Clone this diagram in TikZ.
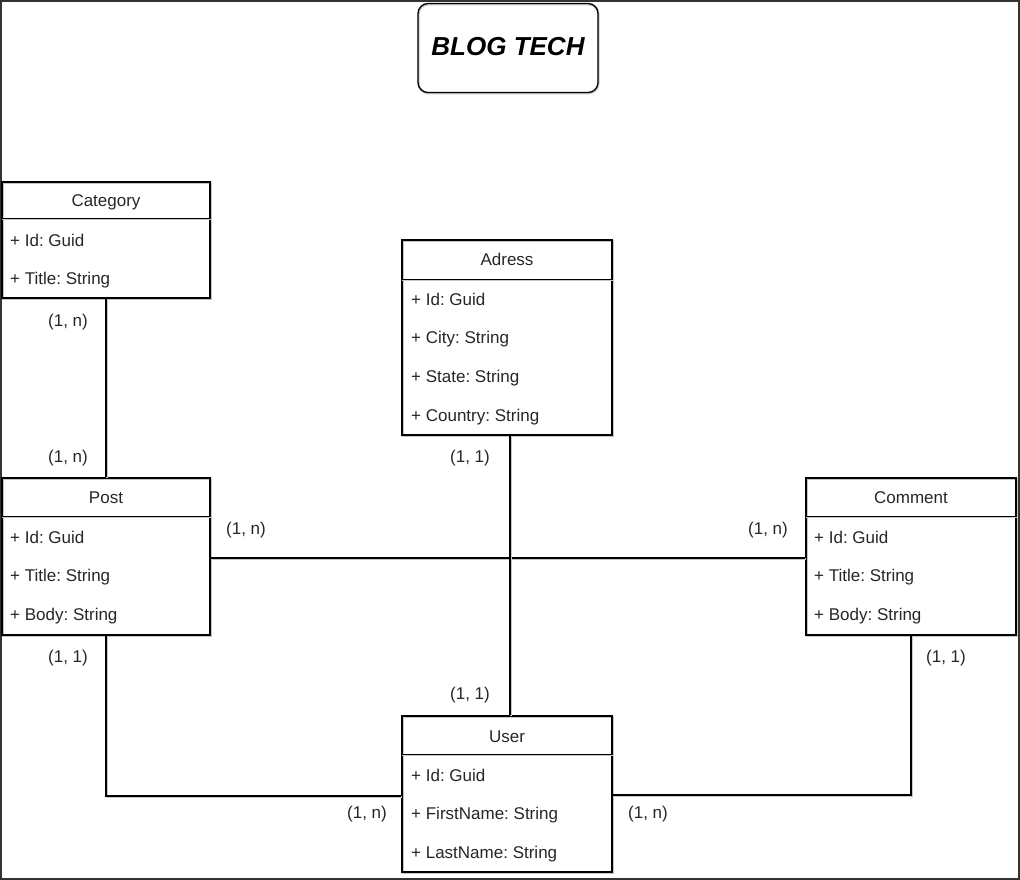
\documentclass[tikz,border=0pt]{standalone}
\usepackage{fontspec}
\setmainfont{Liberation Sans}
\frenchspacing
\usetikzlibrary{positioning}

\tikzset{
  sketch/.style={line width=1.3pt, preaction={draw=gray!45, line width=2.2pt, transform canvas={shift={(0.6pt,-0.8pt)}}}},
  entity/.style={sketch, draw=black, rectangle, inner sep=0pt},
  txt/.style={font=\fontsize{17}{20}\selectfont, text=black!85, inner sep=0pt, text height=12.2pt, text depth=0pt},
  attr/.style={txt, anchor=west},
}

\begin{document}
\begin{tikzpicture}[x=1pt,y=-1pt]
\useasboundingbox (0,0) rectangle (1020,880);
\draw[black!80, line width=2pt] (1,1) rectangle (1019,879);

% title
\node[entity, rounded corners=10pt, minimum width=180pt, minimum height=89pt] (title) at (508,48) {};
\node[txt, font={\fontsize{26}{30}\selectfont\bfseries\itshape}, text=black, text height=19pt] (titletext) at (508,46) {BLOG TECH};

% entities
\node[entity, minimum width=208pt, minimum height=116pt] (cat) at (106,240) {};
\draw[sketch] ([yshift=-37pt]cat.north west) -- ([yshift=-37pt]cat.north east);
\node[txt] (catname) at (106,200) {Category};
\foreach \t [count=\i] in {+ Id: Guid, + Title: String}
  \node[attr] (cat\i) at (10,{240+38.5*(\i-1)}) {\t};

\node[entity, minimum width=210pt, minimum height=195pt] (adr) at (507,337.5) {};
\draw[sketch] ([yshift=-40pt]adr.north west) -- ([yshift=-40pt]adr.north east);
\node[txt] (adrname) at (507,259) {Adress};
\foreach \t [count=\i] in {+ Id: Guid, + City: String, + State: String, + Country: String}
  \node[attr] (adr\i) at (411,{299+38.7*(\i-1)}) {\t};

\node[entity, minimum width=208pt, minimum height=157pt] (post) at (106,556.5) {};
\draw[sketch] ([yshift=-39pt]post.north west) -- ([yshift=-39pt]post.north east);
\node[txt] (postname) at (106,497) {Post};
\foreach \t [count=\i] in {+ Id: Guid, + Title: String, + Body: String}
  \node[attr] (post\i) at (10,{537+38.7*(\i-1)}) {\t};

\node[entity, minimum width=210pt, minimum height=157pt] (com) at (911,556.5) {};
\draw[sketch] ([yshift=-39pt]com.north west) -- ([yshift=-39pt]com.north east);
\node[txt] (comname) at (911,497) {Comment};
\foreach \t [count=\i] in {+ Id: Guid, + Title: String, + Body: String}
  \node[attr] (com\i) at (814,{537+38.7*(\i-1)}) {\t};

\node[entity, minimum width=210pt, minimum height=156pt] (user) at (507,794) {};
\draw[sketch] ([yshift=-39pt]user.north west) -- ([yshift=-39pt]user.north east);
\node[txt] (username) at (507,736) {User};
\foreach \t [count=\i] in {+ Id: Guid, + FirstName: String, + LastName: String}
  \node[attr] (user\i) at (411,{775+38.7*(\i-1)}) {\t};

% relations
\draw[sketch] (cat.south) -- (post.north);
\draw[sketch] ([yshift=-1.5pt]post.east) -- ([yshift=-1.5pt]com.west);
\draw[sketch] ([xshift=3pt]adr.south) -- ([xshift=3pt]user.north);
\draw[sketch] (post.south) |- ([yshift=-2pt]user.west);
\draw[sketch] (com.south) |- ([yshift=-1pt]user.east);

% cardinalities
\node[txt] (c1) at (68,320) {(1, n)};
\node[txt] (c2) at (68,456) {(1, n)};
\node[txt] (c3) at (470,456) {(1, 1)};
\node[txt] (c4) at (470,693) {(1, 1)};
\node[txt] (c5) at (246,528) {(1, n)};
\node[txt] (c6) at (768,528) {(1, n)};
\node[txt] (c7) at (68,656) {(1, 1)};
\node[txt] (c8) at (946,656) {(1, 1)};
\node[txt] (c9) at (367,812) {(1, n)};
\node[txt] (c10) at (648,812) {(1, n)};

\end{tikzpicture}
\end{document}
